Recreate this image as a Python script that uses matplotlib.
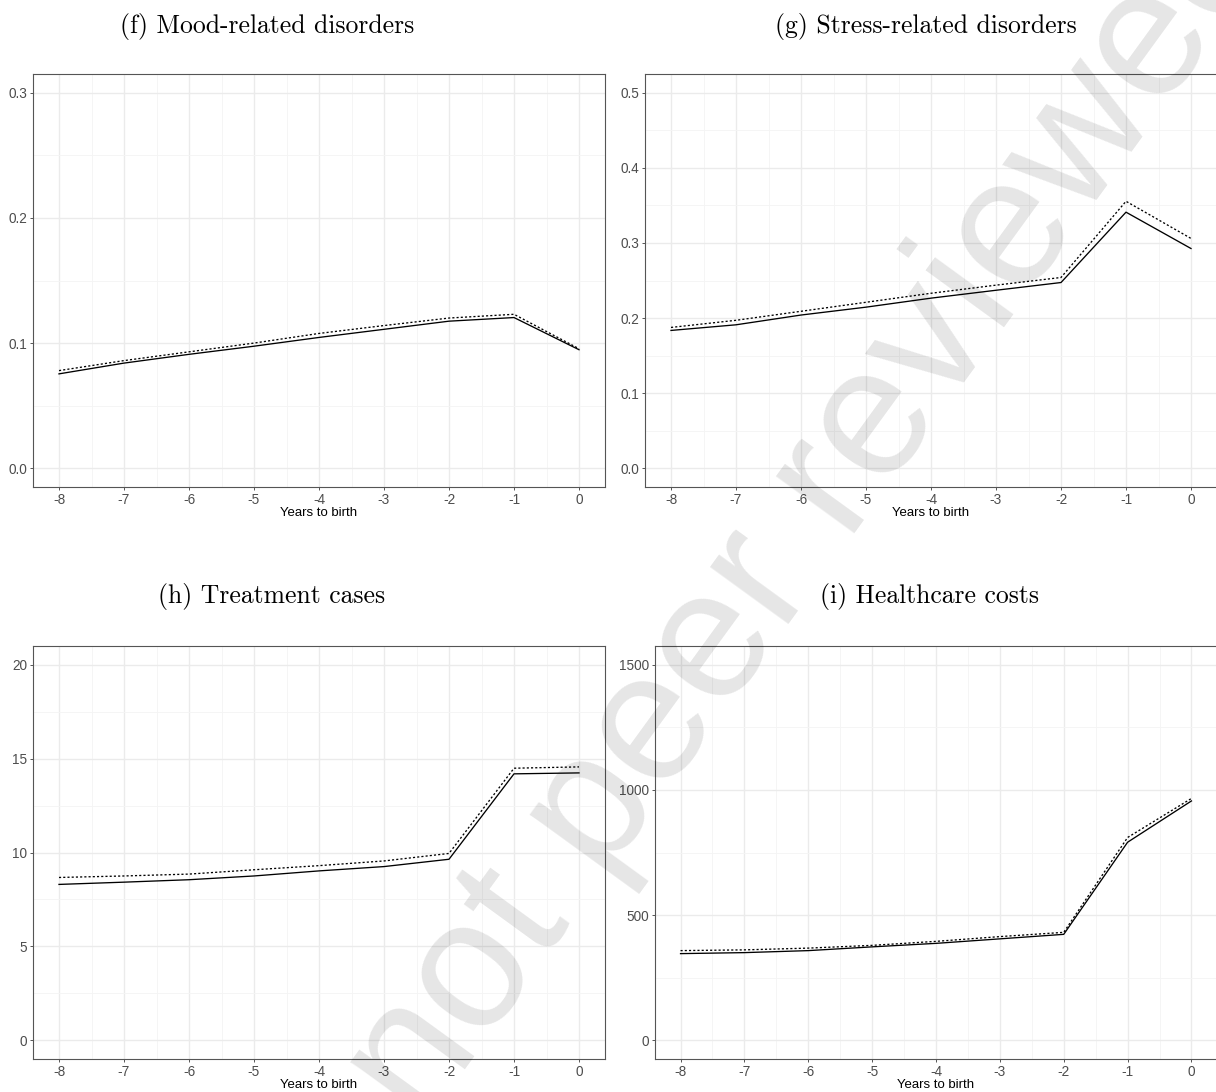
import matplotlib
matplotlib.use("Agg")
import matplotlib.pyplot as plt
import numpy as np

# years relative to birth
years = [-8, -7, -6, -5, -4, -3, -2, -1, 0]

# (f) mood-related disorders
mood_solid = [0.0754, 0.0840, 0.0910, 0.0975, 0.1045, 0.1110, 0.1175, 0.1204, 0.0947]
mood_dot = [0.0780, 0.0860, 0.0930, 0.1000, 0.1077, 0.1140, 0.1200, 0.1230, 0.0955]

# (g) stress-related disorders
stress_solid = [0.1835, 0.1910, 0.2040, 0.2145, 0.2265, 0.2370, 0.2473, 0.3410, 0.2926]
stress_dot = [0.1875, 0.1970, 0.2090, 0.2210, 0.2330, 0.2438, 0.2540, 0.3555, 0.3060]

# (h) treatment cases
treat_solid = [8.30, 8.42, 8.55, 8.75, 9.02, 9.25, 9.64, 14.19, 14.24]
treat_dot = [8.67, 8.75, 8.85, 9.08, 9.30, 9.55, 9.95, 14.49, 14.56]

# (i) healthcare costs
cost_solid = [346, 350, 358, 373, 387, 405, 423, 791, 956]
cost_dot = [358, 361, 368, 379, 395, 414, 431, 810, 966]

titles = ["(f) Mood-related disorders", "(g) Stress-related disorders",
          "(h) Treatment cases", "(i) Healthcare costs"]
yticks_all = [[0.0, 0.1, 0.2, 0.3], [0.0, 0.1, 0.2, 0.3, 0.4, 0.5],
              [0, 5, 10, 15, 20], [0, 500, 1000, 1500]]
ylabels_all = [["0.0", "0.1", "0.2", "0.3"], ["0.0", "0.1", "0.2", "0.3", "0.4", "0.5"],
               ["0", "5", "10", "15", "20"], ["0", "500", "1000", "1500"]]
series = [(mood_solid, mood_dot), (stress_solid, stress_dot),
          (treat_solid, treat_dot), (cost_solid, cost_dot)]

W, H = 1216, 1092
fig = plt.figure(figsize=(W / 100, H / 100), dpi=100)

# axes boxes in pixels: left, top, right, bottom
boxes = [(33, 74, 605, 487), (645, 74, 1217, 487),
         (33, 646, 605, 1059), (655, 646, 1217, 1059)]
# title centres in pixels (captions are centred on the original subfigures)
title_pos = [(267, 27), (926, 27), (272, 597), (929, 597)]

for k in range(4):
    l, t, r, b = boxes[k]
    ax = fig.add_axes([l / W, 1 - b / H, (r - l) / W, (b - t) / H])
    solid, dot = series[k]
    ax.plot(years, dot, color="black", lw=0.95, ls=(0, (1.6, 1.6)), zorder=3)
    ax.plot(years, solid, color="black", lw=0.95, zorder=3)

    yt = yticks_all[k]
    span = yt[-1] - yt[0]
    ax.set_ylim(yt[0] - 0.05 * span, yt[-1] + 0.05 * span)
    ax.set_xlim(-8.4, 0.4)
    ax.set_xticks(years)
    ax.set_xticklabels([str(v) for v in years])
    ax.set_xticks(np.arange(-7.5, 0, 1.0), minor=True)
    ax.set_yticks(yt)
    ax.set_yticklabels(ylabels_all[k])
    step = yt[1] - yt[0]
    ax.set_yticks(np.arange(yt[0] + step / 2, yt[-1], step), minor=True)

    ax.grid(True, which="major", color="#EBEBEB", lw=1.0, zorder=0)
    ax.grid(True, which="minor", color="#F4F4F4", lw=0.6, zorder=0)
    ax.set_axisbelow(True)
    for s in ax.spines.values():
        s.set_color("#555555")
        s.set_linewidth(0.8)
    ax.tick_params(which="major", length=2.5, width=0.7, color="#555555",
                   labelcolor="#4D4D4D", labelsize=9.8, pad=1.5)
    ax.tick_params(which="minor", length=0)
    for lab in ax.get_xticklabels() + ax.get_yticklabels():
        lab.set_family("Liberation Sans")
    ax.set_xlabel("Years to birth", fontsize=9.5, family="Liberation Sans",
                  color="black", labelpad=0)

    tx, ty = title_pos[k]
    fig.text(tx / W, 1 - ty / H, titles[k], family="cmr10", fontsize=18.5,
             ha="center", va="center")

# watermark
fig.text(812 / W, 1 - 511 / H, "not peer reviewed", family="Liberation Sans",
         fontsize=132, color="black", alpha=0.1, rotation=54,
         rotation_mode="anchor", ha="center", va="center", zorder=10)

fig.savefig("out.png", dpi=100)
